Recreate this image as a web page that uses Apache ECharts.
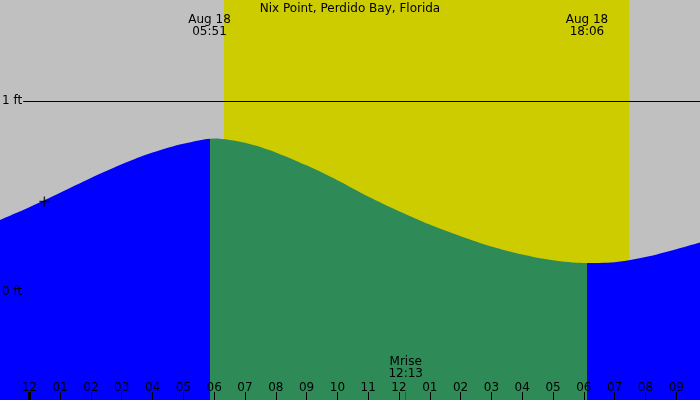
<html>
  <head>
    <title>Nix Point tides</title>
    <script src="https://cdn.jsdelivr.net/npm/echarts@6/dist/echarts.min.js"></script>
    <style>
      html, body { margin: 0; padding: 0; }
      #chart { width: 700px; height: 400px; }
    </style>
  </head>
  <body>
    <div id="chart"></div>
    <script>
      // hours from midnight Aug 18, tide height in feet
      var hours = [-1, 0, 1, 2, 3, 4, 5, 6, 7, 8, 9, 10, 11, 12, 13, 14, 15, 16, 17, 18, 19, 20, 21, 22]
      var heights = [0.374, 0.444, 0.520, 0.597, 0.669, 0.730, 0.776, 0.804, 0.781, 0.731, 0.663, 0.585,
                     0.500, 0.423, 0.353, 0.292, 0.238, 0.196, 0.166, 0.152, 0.156, 0.183, 0.224, 0.270]
      var tickHours = [0, 1, 2, 3, 4, 5, 6, 7, 8, 9, 10, 11, 12, 13, 14, 15, 16, 17, 18, 19, 20, 21]
      var ftTicks = [0, 1]
      var sunrise = 5.85   // 05:51
      var sunset = 18.1    // 18:06
      var dayBand = [6.32, 19.48]
      var moonrise = 12.217 // 12:13
      var marker = [0.49, 0.474]

      var font = 'DejaVu Sans'
      var xMin = -0.951, xMax = 21.77
      var yMin = -0.5654, yMax = 1.5288

      var tide = hours.map(function (h, i) { return [h, heights[i]] })

      function hourLabel(v) {
        var h = ((v % 12) + 12) % 12
        if (h === 0) h = 12
        return (h < 10 ? '0' : '') + h
      }

      function tickAxis(values, color, width, withLabels) {
        return {
          type: 'value',
          min: xMin,
          max: xMax,
          position: 'bottom',
          z: 10,
          axisLine: { show: false, onZero: false },
          splitLine: { show: false },
          axisTick: {
            show: true,
            inside: true,
            length: 8,
            customValues: values,
            lineStyle: { color: color, width: width }
          },
          axisLabel: {
            show: withLabels,
            inside: true,
            margin: 0,
            customValues: values,
            formatter: hourLabel,
            color: '#000',
            fontSize: 12,
            fontFamily: font
          }
        }
      }

      var chart = echarts.init(document.getElementById('chart'))
      chart.setOption({
        animation: false,
        backgroundColor: '#c0c0c0',
        title: {
          text: 'Nix Point, Perdido Bay, Florida',
          left: 'center',
          top: -3,
          padding: 0,
          textStyle: { fontSize: 12, fontWeight: 'normal', color: '#000', fontFamily: font }
        },
        grid: { left: 0, right: 0, top: 0, bottom: 0, containLabel: false, outerBoundsMode: 'none' },
        xAxis: [
          tickAxis(tickHours, '#000', 1, true),
          tickAxis([0], '#000', 3, false),
          tickAxis([moonrise], '#ff0000', 1, false)
        ],
        yAxis: {
          type: 'value',
          min: yMin,
          max: yMax,
          z: 10,
          axisLine: { show: false, onZero: false },
          axisTick: { show: false },
          splitLine: { show: false },
          axisLabel: {
            inside: true,
            margin: 0,
            customValues: ftTicks,
            formatter: function (v) { return v === 1 ? '{g|1 ft}' : '{n|0 ft}' },
            rich: {
              g: { backgroundColor: '#c0c0c0', padding: [1, 1, 1, 2], color: '#000', fontSize: 12, fontFamily: font },
              n: { padding: [1, 1, 1, 2], color: '#000', fontSize: 12, fontFamily: font }
            }
          }
        },
        visualMap: {
          type: 'piecewise',
          show: false,
          dimension: 0,
          seriesIndex: 1,
          pieces: [
            { lt: sunrise, color: '#0000ff' },
            { gte: sunrise, lt: sunset, color: '#2e8b57' },
            { gte: sunset, color: '#0000ff' }
          ]
        },
        series: [
          // daylight band and text notes
          {
            type: 'line',
            z: 1,
            data: [],
            markArea: {
              silent: true,
              itemStyle: { color: '#cccc00', opacity: 1 },
              data: [[{ xAxis: dayBand[0] }, { xAxis: dayBand[1] }]]
            },
            markPoint: {
              silent: true,
              symbolSize: 0,
              label: {
                show: true,
                position: 'inside',
                color: '#000',
                fontSize: 12,
                lineHeight: 12,
                fontFamily: font
              },
              data: [
                { coord: [sunrise, 1.393], label: { formatter: 'Aug 18\n05:51' } },
                { coord: [sunset, 1.393], label: { formatter: 'Aug 18\n18:06' } },
                { coord: [moonrise, -0.398], label: { formatter: 'Mrise\n12:13' } }
              ]
            }
          },
          // tide curve
          {
            type: 'line',
            z: 2,
            data: tide,
            smooth: 0.3,
            clip: false,
            showSymbol: false,
            lineStyle: { width: 0 },
            areaStyle: { origin: 'start', opacity: 1 },
            markLine: {
              silent: true,
              symbol: 'none',
              label: { show: false },
              lineStyle: { color: '#000', width: 1, type: 'solid' },
              data: [{ yAxis: 1 }]
            }
          },
          {
            type: 'scatter',
            z: 3,
            data: [marker],
            symbol: 'path://M0,4.3h10v1.4h-10z M4.3,0h1.4v10h-1.4z',
            symbolSize: 10,
            itemStyle: { color: '#000' }
          }
        ]
      })
    </script>
  </body>
</html>
